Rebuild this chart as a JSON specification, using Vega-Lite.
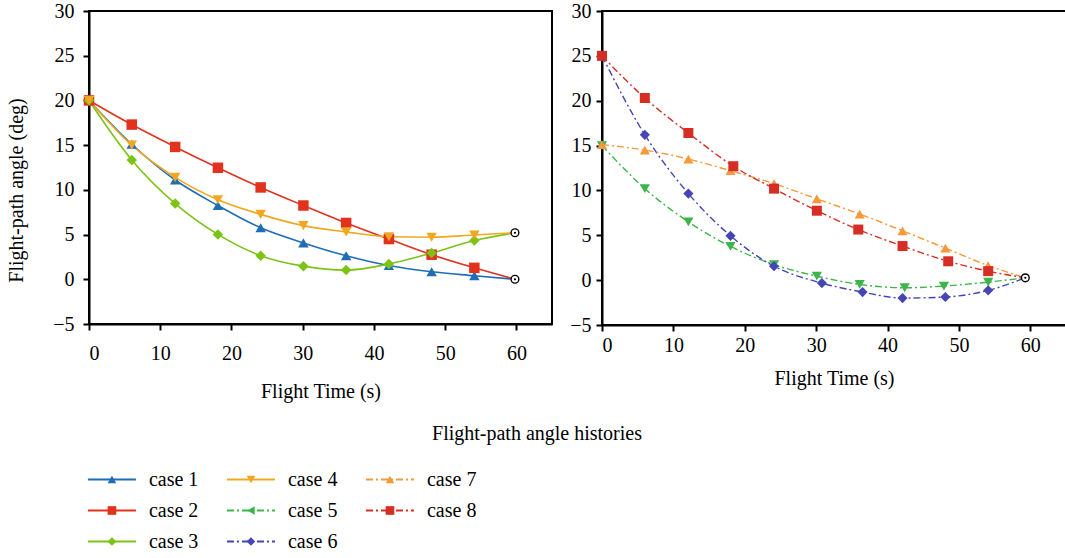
{
  "$schema": "https://vega.github.io/schema/vega-lite/v6.json",
  "padding": {"left": 5, "top": 0, "right": 0, "bottom": 0},
  "config": {
    "font": "Liberation Serif",
    "view": {"stroke": "#000", "strokeWidth": 2},
    "axis": {"domainColor": "#000", "domainWidth": 2, "tickColor": "#000", "tickWidth": 2, "tickSize": 6, "labelFont": "Liberation Serif", "labelFontSize": 20, "labelColor": "#000", "titleFont": "Liberation Serif", "titleFontSize": 20, "titleFontWeight": "normal", "titleColor": "#000", "grid": false},
    "title": {"font": "Liberation Serif", "fontSize": 20, "fontWeight": "normal", "color": "#000"}
  },
  "datasets": {
    "series": [
      {"panel": "a", "case": "case 1", "t": 0, "angle": 20},
      {"panel": "a", "case": "case 1", "t": 6, "angle": 15.1},
      {"panel": "a", "case": "case 1", "t": 12.1, "angle": 11.1},
      {"panel": "a", "case": "case 1", "t": 18.1, "angle": 8.25},
      {"panel": "a", "case": "case 1", "t": 24.1, "angle": 5.76},
      {"panel": "a", "case": "case 1", "t": 30.1, "angle": 4.07},
      {"panel": "a", "case": "case 1", "t": 36.1, "angle": 2.64},
      {"panel": "a", "case": "case 1", "t": 42.1, "angle": 1.54},
      {"panel": "a", "case": "case 1", "t": 48.1, "angle": 0.84},
      {"panel": "a", "case": "case 1", "t": 54.1, "angle": 0.4},
      {"panel": "a", "case": "case 1", "t": 59.8, "angle": 0},
      {"panel": "a", "case": "case 2", "t": 0, "angle": 20},
      {"panel": "a", "case": "case 2", "t": 6, "angle": 17.3},
      {"panel": "a", "case": "case 2", "t": 12.1, "angle": 14.8},
      {"panel": "a", "case": "case 2", "t": 18.1, "angle": 12.47},
      {"panel": "a", "case": "case 2", "t": 24.1, "angle": 10.27},
      {"panel": "a", "case": "case 2", "t": 30.1, "angle": 8.25},
      {"panel": "a", "case": "case 2", "t": 36.1, "angle": 6.3},
      {"panel": "a", "case": "case 2", "t": 42.1, "angle": 4.5},
      {"panel": "a", "case": "case 2", "t": 48.1, "angle": 2.75},
      {"panel": "a", "case": "case 2", "t": 54.1, "angle": 1.28},
      {"panel": "a", "case": "case 2", "t": 59.8, "angle": 0},
      {"panel": "a", "case": "case 3", "t": 0, "angle": 20},
      {"panel": "a", "case": "case 3", "t": 6, "angle": 13.35},
      {"panel": "a", "case": "case 3", "t": 12.1, "angle": 8.47},
      {"panel": "a", "case": "case 3", "t": 18.1, "angle": 5.02},
      {"panel": "a", "case": "case 3", "t": 24.1, "angle": 2.64},
      {"panel": "a", "case": "case 3", "t": 30.1, "angle": 1.47},
      {"panel": "a", "case": "case 3", "t": 36.1, "angle": 1.03},
      {"panel": "a", "case": "case 3", "t": 42.1, "angle": 1.7},
      {"panel": "a", "case": "case 3", "t": 48.1, "angle": 2.93},
      {"panel": "a", "case": "case 3", "t": 54.1, "angle": 4.33},
      {"panel": "a", "case": "case 3", "t": 59.8, "angle": 5.2},
      {"panel": "a", "case": "case 4", "t": 0, "angle": 20},
      {"panel": "a", "case": "case 4", "t": 6, "angle": 15.0},
      {"panel": "a", "case": "case 4", "t": 12.1, "angle": 11.4},
      {"panel": "a", "case": "case 4", "t": 18.1, "angle": 8.9},
      {"panel": "a", "case": "case 4", "t": 24.1, "angle": 7.26},
      {"panel": "a", "case": "case 4", "t": 30.1, "angle": 6.0},
      {"panel": "a", "case": "case 4", "t": 36.1, "angle": 5.3},
      {"panel": "a", "case": "case 4", "t": 42.1, "angle": 4.75},
      {"panel": "a", "case": "case 4", "t": 48.1, "angle": 4.7},
      {"panel": "a", "case": "case 4", "t": 54.1, "angle": 4.95},
      {"panel": "a", "case": "case 4", "t": 59.8, "angle": 5.2},
      {"panel": "b", "case": "case 5", "t": 0, "angle": 15},
      {"panel": "b", "case": "case 5", "t": 6, "angle": 10.2},
      {"panel": "b", "case": "case 5", "t": 12.1, "angle": 6.5},
      {"panel": "b", "case": "case 5", "t": 18, "angle": 3.76},
      {"panel": "b", "case": "case 5", "t": 24.1, "angle": 1.73},
      {"panel": "b", "case": "case 5", "t": 30.1, "angle": 0.44},
      {"panel": "b", "case": "case 5", "t": 36.1, "angle": -0.48},
      {"panel": "b", "case": "case 5", "t": 42.4, "angle": -0.85},
      {"panel": "b", "case": "case 5", "t": 47.9, "angle": -0.66},
      {"panel": "b", "case": "case 5", "t": 54.1, "angle": -0.22},
      {"panel": "b", "case": "case 5", "t": 59.3, "angle": 0.26},
      {"panel": "b", "case": "case 6", "t": 0, "angle": 25},
      {"panel": "b", "case": "case 6", "t": 6, "angle": 16.2},
      {"panel": "b", "case": "case 6", "t": 12.1, "angle": 9.65},
      {"panel": "b", "case": "case 6", "t": 18, "angle": 4.94},
      {"panel": "b", "case": "case 6", "t": 24.1, "angle": 1.55},
      {"panel": "b", "case": "case 6", "t": 30.8, "angle": -0.33},
      {"panel": "b", "case": "case 6", "t": 36.5, "angle": -1.33},
      {"panel": "b", "case": "case 6", "t": 42.1, "angle": -2.0},
      {"panel": "b", "case": "case 6", "t": 48.1, "angle": -1.88},
      {"panel": "b", "case": "case 6", "t": 54.1, "angle": -1.14},
      {"panel": "b", "case": "case 6", "t": 59.3, "angle": 0.26},
      {"panel": "b", "case": "case 7", "t": 0, "angle": 15.1},
      {"panel": "b", "case": "case 7", "t": 6, "angle": 14.5},
      {"panel": "b", "case": "case 7", "t": 12.1, "angle": 13.5},
      {"panel": "b", "case": "case 7", "t": 18, "angle": 12.2},
      {"panel": "b", "case": "case 7", "t": 24.1, "angle": 10.76},
      {"panel": "b", "case": "case 7", "t": 30.1, "angle": 9.06},
      {"panel": "b", "case": "case 7", "t": 36.1, "angle": 7.37},
      {"panel": "b", "case": "case 7", "t": 42.1, "angle": 5.5},
      {"panel": "b", "case": "case 7", "t": 48.1, "angle": 3.57},
      {"panel": "b", "case": "case 7", "t": 54.1, "angle": 1.62},
      {"panel": "b", "case": "case 7", "t": 59.3, "angle": 0.26},
      {"panel": "b", "case": "case 8", "t": 0, "angle": 25},
      {"panel": "b", "case": "case 8", "t": 6, "angle": 20.3},
      {"panel": "b", "case": "case 8", "t": 12.1, "angle": 16.4},
      {"panel": "b", "case": "case 8", "t": 18.4, "angle": 12.7},
      {"panel": "b", "case": "case 8", "t": 24.1, "angle": 10.2},
      {"panel": "b", "case": "case 8", "t": 30.1, "angle": 7.74},
      {"panel": "b", "case": "case 8", "t": 35.9, "angle": 5.64},
      {"panel": "b", "case": "case 8", "t": 42.1, "angle": 3.8},
      {"panel": "b", "case": "case 8", "t": 48.5, "angle": 2.1},
      {"panel": "b", "case": "case 8", "t": 54.1, "angle": 1.0},
      {"panel": "b", "case": "case 8", "t": 59.3, "angle": 0.26}
    ],
    "ends": [
      {"panel": "a", "t": 59.8, "angle": 0},
      {"panel": "a", "t": 59.8, "angle": 5.2},
      {"panel": "b", "t": 59.3, "angle": 0.26}
    ],
    "legend": [
      {"case": "case 1", "col": 0, "row": 0},
      {"case": "case 2", "col": 0, "row": 1},
      {"case": "case 3", "col": 0, "row": 2},
      {"case": "case 4", "col": 1, "row": 0},
      {"case": "case 5", "col": 1, "row": 1},
      {"case": "case 6", "col": 1, "row": 2},
      {"case": "case 7", "col": 2, "row": 0},
      {"case": "case 8", "col": 2, "row": 1}
    ]
  },
  "vconcat": [
    {
      "hconcat": [
        {
          "width": 463,
          "height": 313,
          "encoding": {
            "x": {"field": "t", "type": "quantitative", "scale": {"domain": [0, 65], "nice": false, "zero": false}, "axis": {"values": [0, 10, 20, 30, 40, 50, 60], "title": "Flight Time (s)", "labelPadding": 13, "titlePadding": 18}},
            "y": {"field": "angle", "type": "quantitative", "scale": {"domain": [-5, 30], "nice": false, "zero": false}, "axis": {"values": [-5, 0, 5, 10, 15, 20, 25, 30], "title": "Flight-path angle (deg)", "labelPadding": 9, "titlePadding": 26, "titleY": 179}}
          },
          "layer": [
            {
              "data": {"name": "series"},
              "transform": [{"filter": "datum.panel === 'a'"}],
              "mark": {"type": "line", "interpolate": "monotone", "strokeWidth": 1.6},
              "encoding": {
                "color": {"field": "case", "type": "nominal", "legend": null, "scale": {"domain": ["case 1", "case 2", "case 3", "case 4", "case 5", "case 6", "case 7", "case 8"], "range": ["#1f6db5", "#e2321e", "#7cc316", "#f0a820", "#3db54a", "#4545b5", "#f5993a", "#d62d24"]}}
              }
            },
            {
              "data": {"name": "series"},
              "transform": [{"filter": "datum.panel === 'a' && datum.t < 59"}],
              "mark": {"type": "point", "filled": true, "opacity": 1, "size": 110},
              "encoding": {
                "color": {"field": "case", "type": "nominal", "legend": null},
                "shape": {"field": "case", "type": "nominal", "legend": null, "scale": {"domain": ["case 1", "case 2", "case 3", "case 4", "case 5", "case 6", "case 7", "case 8"], "range": ["triangle-up", "square", "diamond", "triangle-down", "triangle-down", "diamond", "triangle-up", "square"]}}
              }
            },
            {
              "data": {"name": "ends"},
              "transform": [{"filter": "datum.panel === 'a'"}],
              "mark": {"type": "point", "shape": "circle", "size": 60, "stroke": "#000", "strokeWidth": 1.4, "fill": "#fff", "fillOpacity": 1, "opacity": 1}
            },
            {
              "data": {"name": "ends"},
              "transform": [{"filter": "datum.panel === 'a'"}],
              "mark": {"type": "point", "shape": "circle", "size": 5, "filled": true, "color": "#000", "opacity": 1}
            }
          ]
        },
        {
          "width": 464,
          "height": 314,
          "encoding": {
            "x": {"field": "t", "type": "quantitative", "scale": {"domain": [0, 65], "nice": false, "zero": false}, "axis": {"values": [0, 10, 20, 30, 40, 50, 60], "title": "Flight Time (s)", "labelPadding": 4, "titlePadding": 13}},
            "y": {"field": "angle", "type": "quantitative", "scale": {"domain": [-5, 30], "nice": false, "zero": false}, "axis": {"values": [-5, 0, 5, 10, 15, 20, 25, 30], "title": null, "labelPadding": 5}}
          },
          "layer": [
            {
              "data": {"name": "series"},
              "transform": [{"filter": "datum.panel === 'b'"}],
              "mark": {"type": "line", "interpolate": "monotone", "strokeWidth": 1.4, "strokeDash": [7, 3, 2, 3]},
              "encoding": {
                "color": {"field": "case", "type": "nominal", "legend": null, "scale": {"domain": ["case 1", "case 2", "case 3", "case 4", "case 5", "case 6", "case 7", "case 8"], "range": ["#1f6db5", "#e2321e", "#7cc316", "#f0a820", "#3db54a", "#4545b5", "#f5993a", "#d62d24"]}}
              }
            },
            {
              "data": {"name": "series"},
              "transform": [{"filter": "datum.panel === 'b' && datum.t < 59"}],
              "mark": {"type": "point", "filled": true, "opacity": 1},
              "encoding": {
                "color": {"field": "case", "type": "nominal", "legend": null},
                "shape": {"field": "case", "type": "nominal", "legend": null, "scale": {"domain": ["case 1", "case 2", "case 3", "case 4", "case 5", "case 6", "case 7", "case 8"], "range": ["triangle-up", "square", "diamond", "triangle-down", "triangle-down", "diamond", "triangle-up", "square"]}},
                "size": {"field": "case", "type": "nominal", "legend": null, "scale": {"domain": ["case 1", "case 2", "case 3", "case 4", "case 5", "case 6", "case 7", "case 8"], "range": [110, 100, 110, 110, 120, 50, 120, 80]}}
              }
            },
            {
              "data": {"name": "ends"},
              "transform": [{"filter": "datum.panel === 'b'"}],
              "mark": {"type": "point", "shape": "circle", "size": 60, "stroke": "#000", "strokeWidth": 1.4, "fill": "#fff", "fillOpacity": 1, "opacity": 1}
            },
            {
              "data": {"name": "ends"},
              "transform": [{"filter": "datum.panel === 'b'"}],
              "mark": {"type": "point", "shape": "circle", "size": 5, "filled": true, "color": "#000", "opacity": 1}
            }
          ]
        }
      ],
      "spacing": 15,
      "resolve": {"scale": {"x": "independent", "y": "independent"}}
    },
    {
      "width": 896,
      "height": 93,
      "view": {"stroke": null},
      "title": {"text": "Flight-path angle histories", "offset": 20},
      "data": {"name": "legend"},
      "encoding": {
        "x": {"field": "col", "type": "quantitative", "scale": {"domain": [-0.165, 6.28], "nice": false, "zero": false}, "axis": null},
        "y": {"field": "row", "type": "quantitative", "scale": {"domain": [-0.5, 2.5], "reverse": true, "nice": false, "zero": false}, "axis": null}
      },
      "layer": [
        {
          "mark": {"type": "rule", "xOffset": -24, "x2Offset": 24, "strokeWidth": 2},
          "encoding": {
            "x2": {"field": "col"},
            "color": {"field": "case", "type": "nominal", "legend": null, "scale": {"domain": ["case 1", "case 2", "case 3", "case 4", "case 5", "case 6", "case 7", "case 8"], "range": ["#1f6db5", "#e2321e", "#7cc316", "#f0a820", "#3db54a", "#4545b5", "#f5993a", "#d62d24"]}},
            "strokeDash": {"field": "case", "type": "nominal", "legend": null, "scale": {"domain": ["case 1", "case 2", "case 3", "case 4", "case 5", "case 6", "case 7", "case 8"], "range": [[1, 0], [1, 0], [1, 0], [1, 0], [7, 3, 2, 3], [7, 3, 2, 3], [7, 3, 2, 3], [7, 3, 2, 3]]}}
          }
        },
        {
          "mark": {"type": "point", "filled": true, "opacity": 1, "size": 75},
          "encoding": {
            "color": {"field": "case", "type": "nominal", "legend": null},
            "shape": {"field": "case", "type": "nominal", "legend": null, "scale": {"domain": ["case 1", "case 2", "case 3", "case 4", "case 5", "case 6", "case 7", "case 8"], "range": ["triangle-up", "square", "diamond", "triangle-down", "triangle-left", "diamond", "triangle-up", "square"]}}
          }
        },
        {
          "mark": {"type": "text", "align": "left", "baseline": "middle", "dx": 37, "fontSize": 20, "color": "#000"},
          "encoding": {"text": {"field": "case", "type": "nominal"}}
        }
      ]
    }
  ],
  "spacing": 22,
  "resolve": {"scale": {"x": "independent", "y": "independent", "shape": "independent"}}
}
